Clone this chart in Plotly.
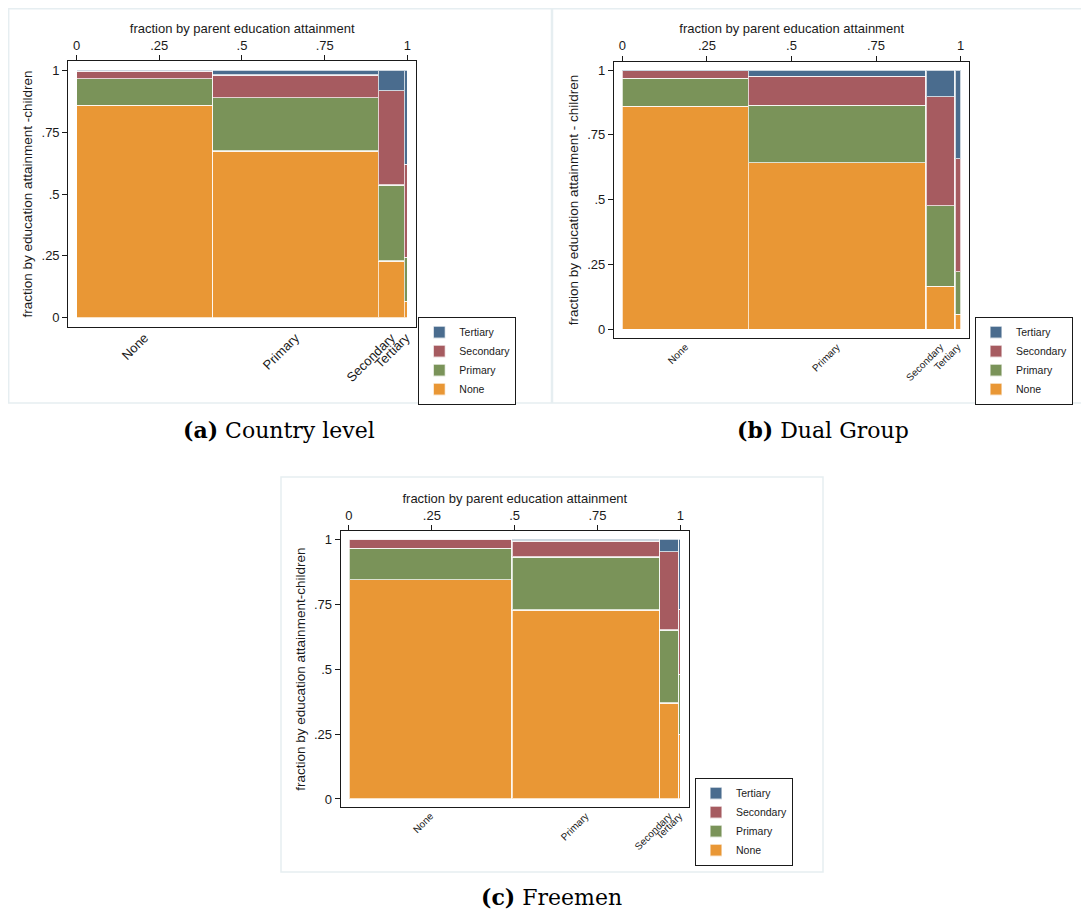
import plotly.graph_objects as go
import numpy as np

# ---------------- data ----------------
parent_levels = ["None", "Primary", "Secondary", "Tertiary"]
child_levels = ["None", "Primary", "Secondary", "Tertiary"]
tick_vals = [0, 0.25, 0.5, 0.75, 1]
tick_text = ["0", ".25", ".5", ".75", "1"]

# (a) Country level : share of parents per level, and child shares within each parent level
a_parent_share = [0.411, 0.501, 0.079, 0.009]
a_child_none = [0.858, 0.674, 0.230, 0.067]
a_child_primary = [0.108, 0.215, 0.306, 0.177]
a_child_secondary = [0.031, 0.092, 0.381, 0.376]
a_child_tertiary = [0.003, 0.019, 0.083, 0.380]

# (b) Dual Group
b_parent_share = [0.372, 0.526, 0.086, 0.016]
b_child_none = [0.860, 0.643, 0.165, 0.057]
b_child_primary = [0.108, 0.221, 0.311, 0.165]
b_child_secondary = [0.030, 0.112, 0.421, 0.436]
b_child_tertiary = [0.002, 0.024, 0.103, 0.342]

# (c) Freemen
c_parent_share = [0.492, 0.445, 0.058, 0.005]
c_child_none = [0.845, 0.728, 0.370, 0.249]
c_child_primary = [0.120, 0.204, 0.281, 0.231]
c_child_secondary = [0.035, 0.062, 0.301, 0.250]
c_child_tertiary = [0.000, 0.006, 0.048, 0.270]

x_title = "fraction by parent education attainment"
a_y_title = "fraction by education attainment -children"
b_y_title = "fraction by education attainment - children"
c_y_title = "fraction by education attainment-children"

captions = [("(a)", "Country level"), ("(b)", "Dual Group"), ("(c)", "Freemen")]

# ---------------- style ----------------
OFF = 8  # page body margin of the html page
W, H = 1089 - OFF, 915 - OFF
colors = {"None": "#E99735", "Primary": "#7A9359", "Secondary": "#A65B60", "Tertiary": "#4A6C8E"}
FONT = "Liberation Sans, Arial, sans-serif"
INK = "#1a1a1a"

panels = [
    dict(share=a_parent_share, kids=[a_child_none, a_child_primary, a_child_secondary, a_child_tertiary],
         ytitle=a_y_title, frame=(68.3, 416.0, 61.3, 326.7), yr=(-0.036, 1.036),
         legend=(418.3, 316.7), catsize=13, outer=(8.7, 551.5, 8.7, 403), cap=(278.5, 430)),
    dict(share=b_parent_share, kids=[b_child_none, b_child_primary, b_child_secondary, b_child_tertiary],
         ytitle=b_y_title, frame=(614.0, 969.3, 61.7, 338.3), yr=(-0.035, 1.032),
         legend=(975.0, 316.7), catsize=10, outer=(552.5, 1088, 8.7, 403), cap=(823, 430)),
    dict(share=c_parent_share, kids=[c_child_none, c_child_primary, c_child_secondary, c_child_tertiary],
         ytitle=c_y_title, frame=(340.7, 689.0, 531.0, 807.3), yr=(-0.032, 1.032),
         legend=(695.0, 777.7), catsize=10, outer=(281, 823, 477, 872), cap=(551.7, 897)),
]

def px_x(v):
    return (v - OFF) / W

def px_y(v):
    return 1 - (v - OFF) / H

fig = go.Figure()
layout = dict(
    width=W, height=H, margin=dict(l=0, r=0, t=0, b=0),
    paper_bgcolor="white", plot_bgcolor="white", barmode="stack",
    font=dict(family=FONT, size=13, color=INK),
    shapes=[], annotations=[],
)

for i, p in enumerate(panels):
    xa_top = "xaxis" if i == 0 else f"xaxis{2 * i + 1}"
    xa_bot = f"xaxis{2 * i + 2}"
    ya = "yaxis" if i == 0 else f"yaxis{i + 1}"
    xref_top = "x" if i == 0 else f"x{2 * i + 1}"
    xref_bot = f"x{2 * i + 2}"
    yref = "y" if i == 0 else f"y{i + 1}"
    leg = "legend" if i == 0 else f"legend{i + 1}"

    widths = np.array(p["share"])
    centers = np.cumsum(widths) - widths / 2

    for lvl, vals in zip(child_levels, p["kids"]):
        fig.add_trace(go.Bar(
            x=centers, y=vals, width=widths, name=lvl,
            xaxis=xref_top, yaxis=yref, legend=leg,
            marker=dict(color=colors[lvl], line=dict(color="rgba(255,255,255,0.72)", width=1.3)),
            hoverinfo="skip",
        ))
    # invisible carrier so the bottom category axis is drawn
    fig.add_trace(go.Scatter(
        x=centers, y=np.zeros(len(centers)), xaxis=xref_bot, yaxis=yref,
        mode="markers", marker=dict(opacity=0, size=1), showlegend=False, hoverinfo="skip",
    ))

    fx0, fx1, fy0, fy1 = p["frame"]
    dom_x = [px_x(fx0), px_x(fx1)]
    dom_y = [px_y(fy1), px_y(fy0)]

    xr = [-0.025, 1.026]

    layout[xa_top] = dict(
        domain=dom_x, anchor=yref, side="top", range=xr,
        tickmode="array", tickvals=tick_vals, ticktext=tick_text,
        ticks="outside", ticklen=5, tickwidth=1, tickcolor=INK,
        showline=True, mirror=True, linecolor=INK, linewidth=1.2,
        showgrid=False, zeroline=False, fixedrange=True,
        tickfont=dict(size=13), title=dict(text=x_title, font=dict(size=13), standoff=1),
    )
    layout[xa_bot] = dict(
        overlaying=xref_top, anchor=yref, side="bottom", range=xr,
        tickmode="array", tickvals=list(centers), ticktext=parent_levels,
        tickangle=-45, ticks="", showline=False, showgrid=False, zeroline=False,
        fixedrange=True, tickfont=dict(size=p["catsize"]),
    )
    layout[ya] = dict(
        domain=dom_y, anchor=xref_top, range=list(p["yr"]),
        tickmode="array", tickvals=tick_vals, ticktext=tick_text,
        ticks="outside", ticklen=5, tickwidth=1, tickcolor=INK,
        showline=True, mirror=True, linecolor=INK, linewidth=1.2,
        showgrid=False, zeroline=False, fixedrange=True,
        tickfont=dict(size=13), title=dict(text=p["ytitle"], font=dict(size=13.5), standoff=5),
    )

    lx, ly = p["legend"]
    layout[leg] = dict(
        x=px_x(lx), y=px_y(ly), xanchor="left", yanchor="top",
        bordercolor=INK, borderwidth=1, bgcolor="white",
        font=dict(size=10.5, family=FONT), traceorder="reversed",
        tracegroupgap=0, itemwidth=30,
    )

    ox0, ox1, oy0, oy1 = p["outer"]
    layout["shapes"].append(dict(
        type="rect", xref="paper", yref="paper",
        x0=px_x(ox0), x1=px_x(ox1), y0=px_y(oy1), y1=px_y(oy0),
        line=dict(color="#e6eef1", width=1.5), fillcolor="rgba(0,0,0,0)", layer="below",
    ))

    cx, cy = p["cap"]
    tag, txt = captions[i]
    layout["annotations"].append(dict(
        xref="paper", yref="paper", x=px_x(cx), y=px_y(cy),
        xanchor="center", yanchor="middle", showarrow=False,
        text=f"<b>{tag}</b> {txt}",
        font=dict(family="DejaVu Serif, serif", size=22, color="black"),
    ))

fig.update_layout(**layout)
fig.write_html("out.html")
